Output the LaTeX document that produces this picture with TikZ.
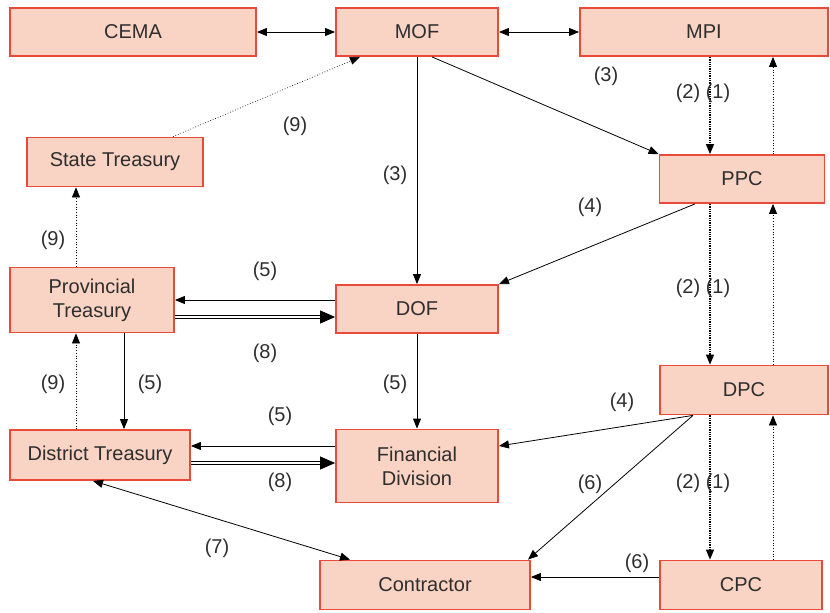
\documentclass[tikz,border=0pt]{standalone}
\usepackage{fontspec}
\setmainfont{Liberation Sans}
\usetikzlibrary{arrows.meta}
\definecolor{boxfill}{HTML}{F9D3C3}
\definecolor{boxline}{HTML}{EA4A3A}
\definecolor{ink}{HTML}{2E2E2E}
\begin{document}
\begin{tikzpicture}[x=1pt,y=-1pt,
  box/.style={draw=boxline, fill=boxfill, line width=1.8pt, inner sep=0pt,
    align=center, text=ink, font=\fontsize{20}{24}\selectfont},
  lbl/.style={text=ink, font=\fontsize{20}{24}\selectfont, inner sep=0pt},
  tip/.style={-{Triangle[length=10pt,width=8pt]}},
  both/.style={{Triangle[length=10pt,width=8pt]}-{Triangle[length=10pt,width=8pt]}},
  conn/.style={line width=0.8pt, black, tip},
  down/.style={line width=1.3pt, densely dotted, black, tip},
  up/.style={line width=0.7pt, dotted, black, tip},
  dbl/.style={double, double distance=2pt, line width=0.8pt, shorten >=10pt},
  bigtip/.style={-{Triangle[length=15pt,width=13pt]}, line width=0.8pt}]
\useasboundingbox (0,0) rectangle (830,613);

% boxes
\node[box, minimum width=246pt, minimum height=48pt] (cema) at (133,32) {CEMA};
\node[box, minimum width=162pt, minimum height=48pt] (mof) at (417,32) {MOF};
\node[box, minimum width=248pt, minimum height=48pt] (mpi) at (704,32) {MPI};
\node[box, minimum width=176pt, minimum height=49pt] (state) at (115,162) {State Treasury};
\node[box, minimum width=165pt, minimum height=48pt] (ppc) at (742,179) {PPC};
\node[box, minimum width=164pt, minimum height=65pt] (prov) at (92,300) {Provincial\\Treasury};
\node[box, minimum width=162pt, minimum height=48pt] (dof) at (417,309) {DOF};
\node[box, minimum width=168pt, minimum height=49pt] (dpc) at (744,390) {DPC};
\node[box, minimum width=180pt, minimum height=50pt] (dist) at (100,455) {District Treasury};
\node[box, minimum width=162pt, minimum height=73pt] (fin) at (417,466) {Financial\\Division};
\node[box, minimum width=210pt, minimum height=49pt] (contr) at (425,585) {Contractor};
\node[box, minimum width=162pt, minimum height=49pt] (cpc) at (741,585) {CPC};

% reference columns and rows
\coordinate (xdn) at (710,0);
\coordinate (xup) at (773,0);
\coordinate (xa) at (432,0);
\coordinate (xb) at (695,0);
\coordinate (xc) at (693,0);
\coordinate (xd) at (93,0);
\coordinate (xe) at (350,0);
\coordinate (xf) at (173,0);
\coordinate (xg) at (360,0);
\coordinate (xh) at (124,0);
\coordinate (xi) at (76,0);
\coordinate (xj) at (528,0);
\coordinate (ya) at (0,300);
\coordinate (yb) at (0,317);
\coordinate (yc) at (0,446);
\coordinate (yd) at (0,463);
\coordinate (ye) at (0,577);

% top row
\draw[line width=0.8pt, both] (cema.east) -- (mof.west);
\draw[line width=0.8pt, both] (mof.east) -- (mpi.west);

% MOF outflows
\draw[conn] (mof.south -| xa) -- (ppc.north west);
\draw[conn] (mof.south) -- (dof.north);

% planning chain
\draw[down] (mpi.south -| xdn) -- (ppc.north -| xdn);
\draw[up] (ppc.north -| xup) -- (mpi.south -| xup);
\draw[down] (ppc.south -| xdn) -- (dpc.north -| xdn);
\draw[up] (dpc.north -| xup) -- (ppc.south -| xup);
\draw[down] (dpc.south -| xdn) -- (cpc.north -| xdn);
\draw[up] (cpc.north -| xup) -- (dpc.south -| xup);

% planning to finance
\draw[conn] (ppc.south -| xb) -- (dof.north east);
\draw[conn] (dpc.south -| xc) -- (fin.east |- yc);
\draw[conn] (dpc.south -| xc) -- (contr.north -| xj);
\draw[conn] (cpc.west |- ye) -- (contr.east |- ye);

% treasury flows
\draw[conn] (dof.west |- ya) -- (prov.east |- ya);
\draw[dbl] (prov.east |- yb) -- (dof.west |- yb);
\draw[bigtip] ([xshift=-12pt]dof.west |- yb) -- (dof.west |- yb);
\draw[conn] (prov.south -| xh) -- (dist.north -| xh);
\draw[conn] (dof.south) -- (fin.north);
\draw[conn] (fin.west |- yc) -- (dist.east |- yc);
\draw[dbl] (dist.east |- yd) -- (fin.west |- yd);
\draw[bigtip] ([xshift=-12pt]fin.west |- yd) -- (fin.west |- yd);
\draw[line width=0.8pt, both] (dist.south -| xd) -- (contr.north -| xe);

% reporting
\draw[up] (dist.north -| xi) -- (prov.south -| xi);
\draw[up] (prov.north -| xi) -- (state.south -| xi);
\draw[up] (state.north -| xf) -- (mof.south -| xg);

% labels
\node[lbl] (l3a) at (606,76) {(3)};
\node[lbl] (l3b) at (395,175) {(3)};
\node[lbl] (l21a) at (703,93) {(2) (1)};
\node[lbl] (l21b) at (703,288) {(2) (1)};
\node[lbl] (l21c) at (703,483) {(2) (1)};
\node[lbl] (l4a) at (590,207) {(4)};
\node[lbl] (l4b) at (622,402) {(4)};
\node[lbl] (l6a) at (590,484) {(6)};
\node[lbl] (l6b) at (637,563) {(6)};
\node[lbl] (l7) at (217,548) {(7)};
\node[lbl] (l5a) at (265,271) {(5)};
\node[lbl] (l8a) at (265,353) {(8)};
\node[lbl] (l5b) at (150,384) {(5)};
\node[lbl] (l5c) at (395,384) {(5)};
\node[lbl] (l5d) at (280,416) {(5)};
\node[lbl] (l8b) at (280,482) {(8)};
\node[lbl] (l9a) at (53,384) {(9)};
\node[lbl] (l9b) at (53,240) {(9)};
\node[lbl] (l9c) at (295,126) {(9)};
\end{tikzpicture}
\end{document}
